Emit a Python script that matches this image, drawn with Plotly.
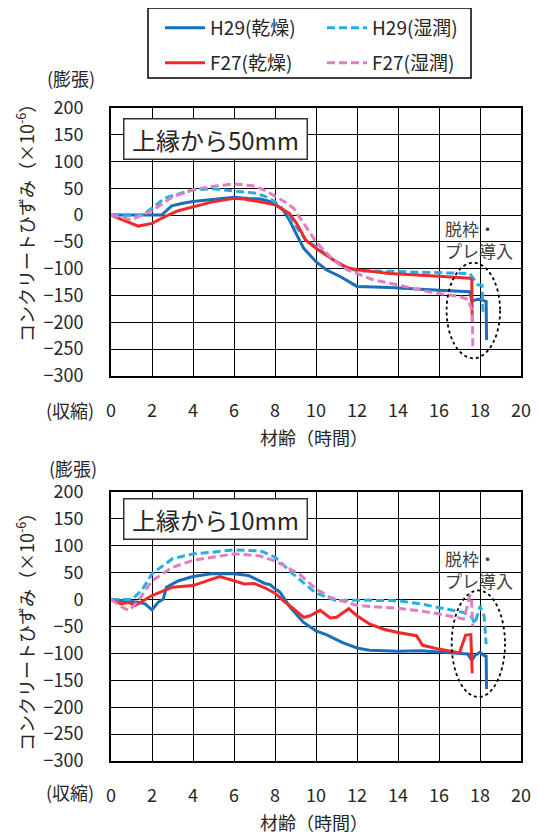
import plotly.graph_objects as go

# ---------------- data: top panel (上縁から50mm) ----------------
t50_h29_dry = [0, 1, 2, 2.47, 2.96, 3.5, 4, 4.9, 6, 6.7, 7.27, 7.7, 8, 8.4, 8.7, 9.06, 9.4, 10, 10.5, 11.2, 12, 13.6, 14, 16, 17.5, 17.6, 17.9, 18.1, 18.2, 18.3, 18.32]
v50_h29_dry = [0, 0, 0, 0, 17, 22, 25, 29, 33, 31, 30, 26, 21, 9, -9, -37, -62, -87, -102, -115, -133, -135, -136, -140, -143, -160, -157, -158, -160, -161, -233]

t50_h29_wet = [0, 1.5, 2, 2.6, 3, 4, 4.9, 6, 7, 7.5, 8, 8.6, 9.06, 9.5, 10, 10.85, 11.5, 12, 13.6, 16, 17.5, 17.9, 18.1, 18.15]
v50_h29_wet = [0, 0, 12.5, 31, 36, 47, 49, 45, 41, 35, 25, 3, -22, -47, -59, -84, -99, -104, -105, -107, -109, -130, -131, -185]

t50_f27_dry = [0, 0.5, 1.33, 2, 2.63, 3.28, 4, 4.9, 6, 6.5, 7.2, 8, 8.7, 9.06, 9.5, 10, 10.85, 11.5, 12, 13.6, 16, 17.5, 17.6, 17.62]
v50_f27_dry = [0, -8, -20.6, -15.6, -3, 8, 15.6, 24, 31, 30, 25, 19, 3, -16, -47, -62, -84, -97.5, -102, -109, -114, -118, -120, -199]

t50_f27_wet = [0, 1.0, 1.5, 2, 3, 4, 4.9, 6, 7, 7.5, 8, 8.5, 8.9, 9.4, 10, 10.85, 11.5, 12, 12.8, 13.6, 15.5, 17, 17.4, 17.55, 17.63, 17.65]
v50_f27_wet = [0, -9, 0, 8, 34, 47, 53, 58, 54, 46, 35, 24, 13, -15, -50, -84, -102, -109, -121, -127, -143, -152, -157, -171, -180, -251]

# ---------------- data: bottom panel (上縁から10mm) ----------------
t10_h29_dry = [0, 0.68, 1.33, 1.66, 2, 2.3, 2.55, 2.7, 3.3, 4, 4.9, 6, 6.7, 7.5, 7.76, 8, 8.24, 8.73, 9.38, 10, 10.5, 11.3, 12, 12.6, 14, 15.1, 17.4, 17.6, 17.75, 18, 18.2, 18.3, 18.32]
v10_h29_dry = [0, -2, -5, -8, -19, -5, 1, 23, 35, 43, 48, 48, 45, 30, 28, 20, 14, -14, -42, -58, -65, -80, -90, -94, -96, -95, -101, -113, -104, -98, -104, -105, -166]

t10_h29_wet = [0, 0.68, 1.0, 1.5, 2, 3, 4, 4.9, 6, 7, 7.27, 8, 8.9, 10, 11, 12, 13.1, 14, 15.1, 16.2, 17.2, 17.6, 17.75, 18, 18.2, 18.3]
v10_h29_wet = [0, 0, 0, 17, 48, 76, 85, 88, 92.5, 91, 91, 79, 47, 12, -2, -1, -1, -2, -8, -17, -24, -33, -45, -12, -30, -83]

t10_f27_dry = [0, 0.5, 0.85, 1.17, 2, 3, 4, 4.9, 5.3, 6, 6.5, 7, 7.5, 8, 8.4, 8.9, 9.4, 9.7, 10.2, 10.7, 11, 11.6, 12, 12.6, 13.3, 14, 14.9, 15.2, 16, 17, 17.3, 17.55, 17.6, 17.62]
v10_f27_dry = [0, -8, -5, -11, 7.5, 23, 26, 38.5, 43, 35, 29, 30, 22, 12, -2, -17, -33, -30, -20, -34, -33, -17, -30, -45, -55, -61, -67, -85, -92, -99, -66, -65, -100, -137]

t10_f27_wet = [0, 0.68, 0.9, 1.33, 2, 3, 4, 4.9, 6, 7, 7.27, 8, 9.2, 10, 10.7, 11.5, 12, 14, 15.1, 16.2, 17.2, 17.4, 17.5, 17.58, 17.65]
v10_f27_wet = [0, -17, -20, -2, 35, 60, 73, 79, 85, 82, 81, 72, 47, 20, 4, -5, -11, -16, -21, -28, -36, -10, 8, 5, -50]

series_names = ["H29(乾燥)", "H29(湿潤)", "F27(乾燥)", "F27(湿潤)"]
series_colors = ["#1A6FBA", "#26AEE6", "#F02A2A", "#DE7FBF"]
series_dash = ["solid", "8px,4px", "solid", "8px,4px"]

panel_top = [(t50_h29_dry, v50_h29_dry), (t50_h29_wet, v50_h29_wet),
             (t50_f27_dry, v50_f27_dry), (t50_f27_wet, v50_f27_wet)]
panel_bot = [(t10_h29_dry, v10_h29_dry), (t10_h29_wet, v10_h29_wet),
             (t10_f27_dry, v10_f27_dry), (t10_f27_wet, v10_f27_wet)]

x_ticks = list(range(0, 21, 2))
y_ticks = list(range(-300, 201, 50))

# page body adds an 8px offset; size the figure so it fits the window
OFF = 8
W, H = 539 - OFF, 834 - OFF
FONT = "Noto Sans CJK JP"
TXT = "#262626"

def px(x):
    return (x - OFF) / W

def py(y):
    return 1 - (y - OFF) / H

fig = go.Figure()
legend_ids = ["legend", "legend2", "legend3", "legend4"]
for i, (tx, vy) in enumerate(panel_top):
    fig.add_trace(go.Scatter(x=tx, y=vy, mode="lines", name=series_names[i],
                             line=dict(color=series_colors[i], width=3, dash=series_dash[i]),
                             xaxis="x", yaxis="y", legend=legend_ids[i], showlegend=True))
for i, (tx, vy) in enumerate(panel_bot):
    fig.add_trace(go.Scatter(x=tx, y=vy, mode="lines", name=series_names[i],
                             line=dict(color=series_colors[i], width=3, dash=series_dash[i]),
                             xaxis="x2", yaxis="y2", showlegend=False))

x_dom = [px(111), px(521)]
top_dom = [py(376), py(107.7)]
bot_dom = [py(761), py(492)]

axis_common = dict(showgrid=True, gridcolor="black", gridwidth=1, showline=True,
                   linecolor="black", linewidth=2, mirror=True, zeroline=False,
                   ticks="", automargin=False,
                   tickfont=dict(family=FONT, size=18, color=TXT))

fig.update_layout(
    width=W, height=H, margin=dict(l=0, r=0, t=0, b=0, pad=0, autoexpand=False),
    paper_bgcolor="white", plot_bgcolor="white",
    font=dict(family=FONT, color=TXT),
    xaxis=dict(domain=x_dom, range=[0, 20], tickvals=x_ticks, anchor="y", ticklabelstandoff=17, **axis_common),
    yaxis=dict(domain=top_dom, range=[-300, 200], tickvals=y_ticks, anchor="x", ticklabelstandoff=22, **axis_common),
    xaxis2=dict(domain=x_dom, range=[0, 20], tickvals=x_ticks, anchor="y2", ticklabelstandoff=17, **axis_common),
    yaxis2=dict(domain=bot_dom, range=[-300, 200], tickvals=y_ticks, anchor="x2", ticklabelstandoff=22, **axis_common),
)

leg_pos = [(160, 28), (322, 28), (160, 63), (322, 63)]
for lid, (lx, ly) in zip(legend_ids, leg_pos):
    fig.update_layout({lid: dict(x=px(lx), y=py(ly), xanchor="left", yanchor="middle",
                                 bgcolor="rgba(0,0,0,0)", borderwidth=0, itemwidth=40,
                                 font=dict(family=FONT, size=19, color=TXT))})

shapes = [
    dict(type="rect", xref="paper", yref="paper", x0=px(148), x1=px(471), y0=py(78), y1=py(8),
         line=dict(color="black", width=1.5), fillcolor="white", layer="below"),
    dict(type="circle", xref="x", yref="y", x0=16.37, x1=18.98, y0=-267, y1=-89,
         line=dict(color="black", width=1.8, dash="dot")),
    dict(type="circle", xref="x2", yref="y2", x0=16.62, x1=19.22, y0=-181, y1=17,
         line=dict(color="black", width=1.8, dash="dot")),
]
fig.update_layout(shapes=shapes)

ann = []
# panel labels
for label, ytop in [("\u00a0上縁から50mm\u00a0", 118), ("\u00a0上縁から10mm\u00a0", 498)]:
    ann.append(dict(text=label, xref="paper", yref="paper", x=px(123), y=py(ytop),
                    xanchor="left", yanchor="top", showarrow=False,
                    font=dict(family=FONT, size=24, color=TXT), bgcolor="white",
                    bordercolor="#333333", borderwidth=1.5, borderpad=2))
# demould note
for ytop in [214, 544]:
    ann.append(dict(text="脱枠・<br>プレ導入", xref="paper", yref="paper", x=px(443), y=py(ytop),
                    xanchor="left", yanchor="top", align="left", showarrow=False,
                    font=dict(family=FONT, size=17, color="#404040")))
# expansion / shrink markers
for txt, cx, cy in [("(膨張)", 71, 78), ("(収縮)", 70, 410), ("(膨張)", 73, 468), ("(収縮)", 70, 792)]:
    ann.append(dict(text=txt, xref="paper", yref="paper", x=px(cx), y=py(cy),
                    xanchor="center", yanchor="middle", showarrow=False,
                    font=dict(family=FONT, size=18, color=TXT)))
# y titles
for cy in [219, 628]:
    ann.append(dict(text="コンクリートひずみ（×10<sup>-6</sup>）", xref="paper", yref="paper",
                    x=px(25), y=py(cy), xanchor="center", yanchor="middle", textangle=-90,
                    showarrow=False, font=dict(family=FONT, size=18, color=TXT)))
# x titles
for cy in [437, 822]:
    ann.append(dict(text="材齢（時間）", xref="paper", yref="paper", x=px(314), y=py(cy),
                    xanchor="center", yanchor="middle", showarrow=False,
                    font=dict(family=FONT, size=18, color=TXT)))
fig.update_layout(annotations=ann)

fig.write_html("out.html")
